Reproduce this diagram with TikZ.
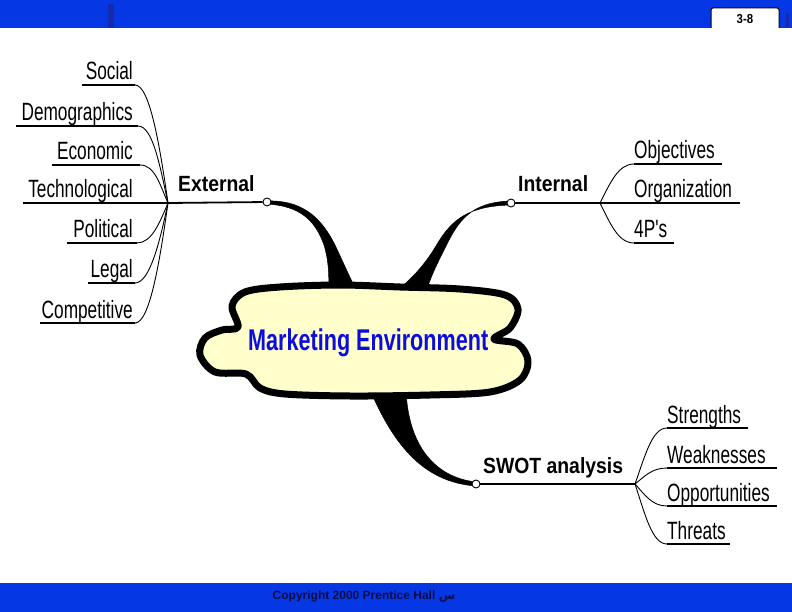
\documentclass[tikz,border=0pt]{standalone}
\usepackage{fontspec}
\setmainfont{Liberation Sans}
\newfontfamily\leaffont[FakeStretch=0.69]{Liberation Sans}
\newfontfamily\headfont[FakeStretch=0.88]{Liberation Sans}
\newfontfamily\cloudfont[FakeStretch=0.72]{Liberation Sans}
\newfontfamily\arabicfont[Script=Arabic]{DejaVu Sans}
\TeXXeTstate=1
\usetikzlibrary{positioning,calc}
\definecolor{slideblue}{RGB}{5,56,228}
\definecolor{stripeblue}{RGB}{22,42,175}
\definecolor{cloudyellow}{RGB}{255,255,204}
\definecolor{titleblue}{RGB}{12,12,220}
\definecolor{navy}{RGB}{12,12,70}

\tikzset{
  leaf/.style={font={\leaffont\fontsize{25}{25}\selectfont}, inner sep=0pt},
  head/.style={font={\headfont\bfseries\fontsize{22}{22}\selectfont}, inner sep=0pt},
  leafline/.style={line width=1.4pt},
  twig/.style={line width=0.9pt},
  branch/.style={line width=1.8pt},
  knob/.style={circle, draw, fill=white, inner sep=0pt, minimum size=8pt, line width=0.9pt},
  wedge/.style={fill=black, draw=black, line width=0.5pt},
}

\begin{document}
\begin{tikzpicture}[x=1pt,y=-1pt]
\useasboundingbox (0,0) rectangle (792,612);

% slide frame
\fill[slideblue] (0,0) rectangle (792,28);
\fill[stripeblue] (108,4) rectangle (114,28);
\fill[stripeblue] (786,13) rectangle (789,28);
\draw[fill=white, line width=1pt, rounded corners=2pt] (711,28) -- (711,8) -- (779,8) -- (779,28);
\node[font={\headfont\bfseries\fontsize{13}{13}\selectfont}] (slideno) at (745,19) {3-8};
\fill[slideblue] (0,583) rectangle (792,612);
\node[font=\bfseries\fontsize{12}{12}\selectfont, text=navy] (copy) at (364,597)
  {Copyright 2000 Prentice Hall {\arabicfont\beginR س\endR}};

% hubs and knobs
\coordinate (ext-hub) at (168,203);
\coordinate (int-hub) at (600,203);
\coordinate (swot-hub) at (635,484);

% thick tapered branches, under the cloud
\fill[wedge] (267,201) .. controls (300,200) and (320,215) .. (335,245)
  .. controls (343,262) and (350,278) .. (360,298)
  -- (328,298) .. controls (330,275) and (328,258) .. (324,245)
  .. controls (315,220) and (300,206) .. (267,204) -- cycle;
\fill[wedge] (511,201) .. controls (470,202) and (458,222) .. (446,246)
  .. controls (436,266) and (428,282) .. (424,300)
  -- (384,300) .. controls (408,284) and (424,266) .. (436,246)
  .. controls (452,218) and (470,206) .. (511,205) -- cycle;
\fill[wedge] (370,390) .. controls (392,440) and (420,482) .. (476,486)
  -- (476,482) .. controls (432,477) and (408,442) .. (406,390) -- cycle;

% the cloud
\draw[fill=cloudyellow, line width=7pt, line join=round]
  plot[smooth cycle, tension=0.55] coordinates {
    (232,306) (245,292) (280,287) (340,285) (400,287) (460,289) (505,295)
    (518,309) (510,328) (494,339) (518,344) (528,361) (520,380) (490,392)
    (430,395) (350,396) (285,394) (260,388) (246,374) (215,372) (200,355)
    (205,338) (222,330) (238,327)};
\node[font={\cloudfont\bfseries\fontsize{30}{30}\selectfont}, text=titleblue,
  anchor=base west, inner sep=0pt] (cloud) at (248,350) {Marketing Environment};

% External
\node[knob] (ext-knob) at (267,202) {};
\draw[branch] (ext-hub) -- (ext-knob);
\node[head, anchor=base west] (ext) at (178,192) {External};
\node[leaf, anchor=base east] (tec) at (133,198) {Technological};
\coordinate (tec-a) at (23,203);
\draw[leafline] (tec-a) -- (ext-hub);
\foreach \name/\txt/\y/\xs/\xe in {soc/Social/85/82/135,dem/Demographics/126/16/138,
    eco/Economic/165/52/140,pol/Political/243/67/137,leg/Legal/283/88/135,
    com/Competitive/323/40/135}{
  \pgfmathsetmacro{\cy}{203+0.47*(\y-203)}
  \node[leaf, anchor=base east] (\name) at (133,\y-5) {\txt};
  \coordinate (\name-a) at (\xs,\y);
  \coordinate (\name-b) at (\xe,\y);
  \draw[leafline] (\name-a) -- (\name-b);
  \draw[twig] (\name-b) .. controls +(15,0) and (160,\cy) .. (ext-hub);
}

% Internal
\node[knob] (int-knob) at (511,203) {};
\draw[branch] (int-knob) -- (int-hub);
\node[head, anchor=base west] (int) at (518,192) {Internal};
\node[leaf, anchor=base west] (org) at (634,198) {Organization};
\coordinate (org-b) at (740,203);
\draw[leafline] (int-hub) -- (org-b);
\foreach \name/\txt/\y/\xe in {obj/Objectives/164/722,fps/4P's/243/674}{
  \pgfmathsetmacro{\cy}{203+0.5*(\y-203)}
  \node[leaf, anchor=base west] (\name) at (634,\y-5) {\txt};
  \coordinate (\name-a) at (634,\y);
  \coordinate (\name-b) at (\xe,\y);
  \draw[leafline] (\name-a) -- (\name-b);
  \draw[twig] (int-hub) .. controls (610,\cy) and (618,\y) .. (\name-a);
}

% SWOT analysis
\node[knob] (swot-knob) at (476,484) {};
\draw[branch] (swot-knob) -- (swot-hub);
\node[head, anchor=base west] (swot) at (483,473) {SWOT analysis};
\foreach \name/\txt/\y/\xe in {str/Strengths/428/748,wea/Weaknesses/468/777,
    opp/Opportunities/506/777,thr/Threats/544/730}{
  \pgfmathsetmacro{\cy}{484+0.5*(\y-484)}
  \node[leaf, anchor=base west] (\name) at (667,\y-5) {\txt};
  \coordinate (\name-a) at (667,\y);
  \coordinate (\name-b) at (\xe,\y);
  \draw[leafline] (\name-a) -- (\name-b);
  \draw[twig] (swot-hub) .. controls (645,\cy) and (652,\y) .. (\name-a);
}
\end{tikzpicture}
\end{document}
